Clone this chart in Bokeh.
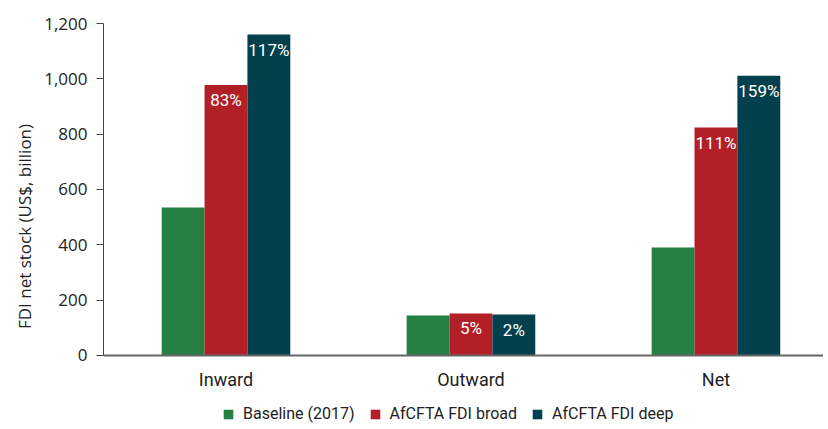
from bokeh.plotting import figure
from bokeh.models import ColumnDataSource, Range1d, FixedTicker, Legend, LegendItem, NumeralTickFormatter, LinearAxis, Title
from bokeh.embed import file_html
from bokeh.resources import INLINE
from bokeh.core.properties import value

categories = ["Inward", "Outward", "Net"]
series_names = ["Baseline (2017)", "AfCFTA FDI broad", "AfCFTA FDI deep"]
baseline = [535, 145, 390]
broad = [978, 152, 824]
deep = [1160, 148, 1011]
broad_pct = ["83%", "5%", "111%"]
deep_pct = ["117%", "2%", "159%"]
colors = ["#268044", "#B31F27", "#03404E"]
y_title = "FDI net stock (US$, billion)"

p = figure(frame_width=720, frame_height=406, output_backend="svg", toolbar_location=None,
           x_range=Range1d(-0.5, 2.439), y_range=Range1d(-267.5, 1200),
           x_axis_location=None,
           min_border_left=103, min_border_right=0, min_border_top=23, min_border_bottom=0)
p.outline_line_color = None
p.xgrid.grid_line_color = None
p.ygrid.grid_line_color = None

xs = list(range(len(categories)))
width = 0.175
offsets = [-width, 0.0, width]
renderers = []
for vals, off, col in zip([baseline, broad, deep], offsets, colors):
    src = ColumnDataSource(dict(x=[x + off for x in xs], top=vals))
    r = p.vbar(x="x", top="top", bottom=0, width=width, source=src, fill_color=col, line_color=None)
    renderers.append(r)

for vals, labels, off in [(broad, broad_pct, offsets[1]), (deep, deep_pct, offsets[2])]:
    src = ColumnDataSource(dict(x=[x + off for x in xs], y=vals, t=labels))
    p.text(x="x", y="y", text="t", source=src, text_align="center", text_baseline="middle",
           y_offset=15, text_color="white", text_font=value("Roboto"), text_font_size="17px")

xaxis = LinearAxis(fixed_location=0)
xaxis.ticker = FixedTicker(ticks=xs)
xaxis.major_label_overrides = {i: c for i, c in enumerate(categories)}
xaxis.major_tick_line_color = None
xaxis.minor_tick_line_color = None
xaxis.axis_line_color = "#666666"
xaxis.axis_line_width = 2
xaxis.major_label_text_font = "Roboto"
xaxis.major_label_text_font_size = "18px"
xaxis.major_label_text_color = "#222222"
xaxis.major_label_standoff = 8
p.add_layout(xaxis, "below")

p.yaxis.ticker = FixedTicker(ticks=[0, 200, 400, 600, 800, 1000, 1200])
p.yaxis.bounds = (0, 1200)
p.yaxis.formatter = NumeralTickFormatter(format="0,0")
p.yaxis.minor_tick_line_color = None
p.yaxis.major_tick_in = 0
p.yaxis.major_tick_out = 7
p.yaxis.major_tick_line_color = "#444444"
p.yaxis.axis_line_color = "#444444"
p.yaxis.major_label_text_font = "Open Sans"
p.yaxis.major_label_text_font_size = "17px"
p.yaxis.major_label_text_color = "#222222"
p.yaxis.major_label_standoff = 9

ytitle = Title(text=y_title, align="center", offset=37, standoff=12,
               text_font="Open Sans", text_font_size="17px", text_font_style="normal",
               text_color="#222222")
p.add_layout(ytitle, "left")

legend = Legend(items=[LegendItem(label=n, renderers=[r]) for n, r in zip(series_names, renderers)],
                orientation="horizontal", location=(119, 6),
                label_text_font="Roboto", label_text_font_size="16px", label_text_color="#222222",
                glyph_width=12, glyph_height=12, spacing=14, label_standoff=9,
                border_line_color=None, background_fill_alpha=0, margin=0, padding=0)
p.add_layout(legend, "center")

open("out.html", "w").write(file_html(p, INLINE))
